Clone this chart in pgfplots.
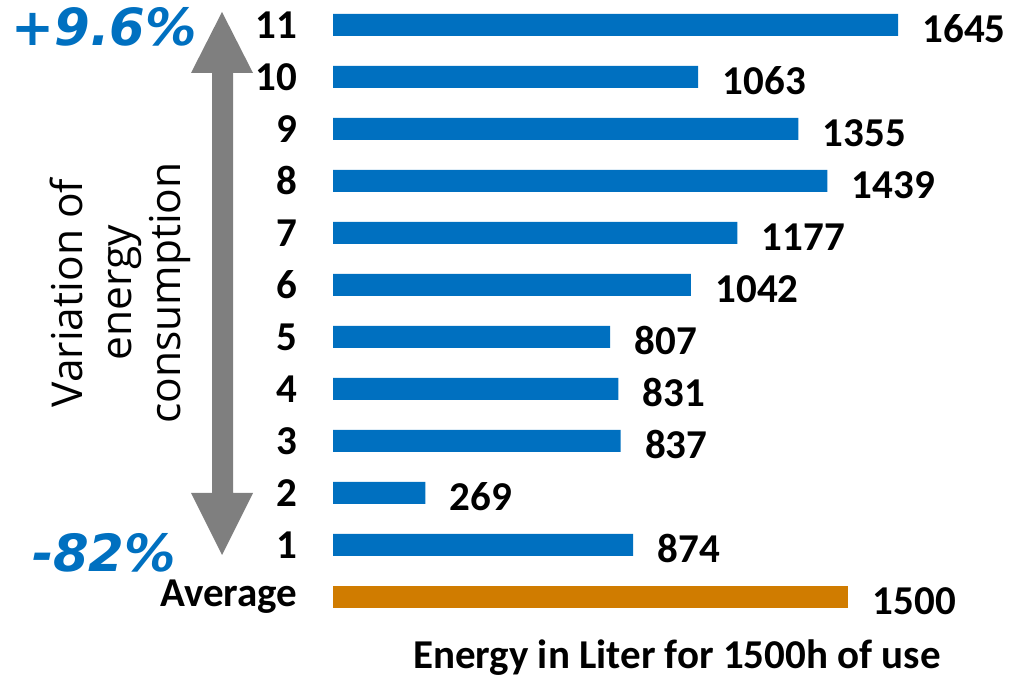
\documentclass[border=0pt]{standalone}
\usepackage{pgfplots}
\pgfplotsset{compat=1.18}
\usepackage{fontspec}
\setmainfont{Carlito}
\newfontfamily\dejavu{DejaVu Sans}
\newfontfamily\opensans{Open Sans}
\definecolor{barblue}{HTML}{0070C0}
\definecolor{barorange}{HTML}{D07C00}
\definecolor{arrowgray}{HTML}{7F7F7F}

\begin{document}
\begin{tikzpicture}[x=0.4pt,y=0.4pt]
\useasboundingbox (0,0) rectangle (1013,679);
% double arrow, pixel coordinates (y measured from the bottom)
\fill[arrowgray] (212,679-73) -- (191,679-73) -- (222,679-12) -- (253,679-73) -- (233,679-73)
  -- (233,679-493) -- (253,679-493) -- (222,679-555) -- (191,679-493) -- (212,679-493) -- cycle;
\node[font=\dejavu\bfseries\itshape\fontsize{20.5}{22}\selectfont, text=barblue] at (104,679-27) {+9.6\%};
\node[font=\dejavu\bfseries\itshape\fontsize{20.5}{22}\selectfont, text=barblue] at (104,679-553) {-82\%};
\node[rotate=90, align=center, font=\opensans\fontsize{17}{19.6}\selectfont] at (120,679-293)
  {Variation of\\energy\\consumption};

\begin{axis}[
    at={(133.2pt,22.4pt)}, anchor=south west,
    scale only axis,
    width=275.2pt, height=249.6pt,
    xmin=0, xmax=2003,
    ymin=-0.5, ymax=11.5,
    xbar, bar width=8.8pt, /pgf/bar shift=0pt,
    axis line style={draw=none},
    major tick length=0pt,
    xtick=\empty,
    ytick={0,...,11},
    yticklabels={Average,1,2,3,4,5,6,7,8,9,10,11},
    yticklabel style={font=\bfseries\fontsize{16.4}{19}\selectfont, inner sep=0pt, xshift=-14pt},
    nodes near coords,
    every node near coord/.append style={anchor=west, inner sep=0pt, xshift=9.6pt, yshift=-1.5pt,
      font=\bfseries\fontsize{16.4}{19}\selectfont,
      /pgf/number format/assume math mode=true, /pgf/number format/1000 sep={}},
    xlabel={Energy in Liter for 1500h of use},
    xlabel style={font=\bfseries\fontsize{16.4}{19}\selectfont, at={(axis description cs:0.5,0)}, anchor=center, yshift=-14pt},
  ]
  \addplot[fill=barblue, draw=none] coordinates {
    (874,1) (269,2) (837,3) (831,4) (807,5) (1042,6)
    (1177,7) (1439,8) (1355,9) (1063,10) (1645,11)
  };
  \addplot[fill=barorange, draw=none] coordinates {(1500,0)};
\end{axis}
\end{tikzpicture}
\end{document}
